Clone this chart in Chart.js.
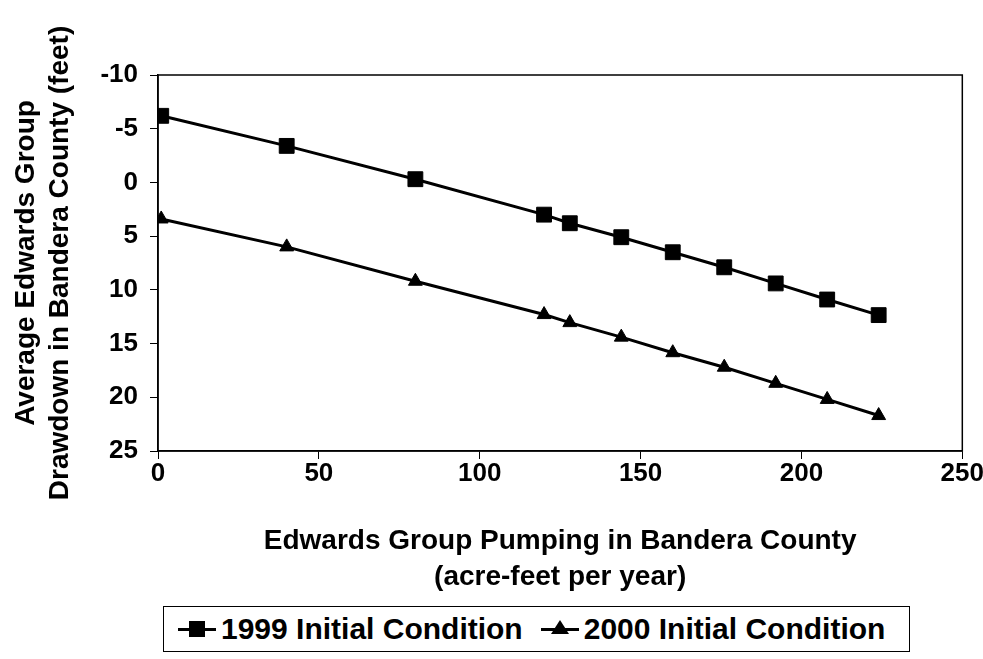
<!DOCTYPE html>
<html lang="en">

<head>
    <meta charset="UTF-8">
    <title>Edwards Group Drawdown</title>
    <style>
        body {
            margin: 0;
            background-color: #ffffff;
            font-family: "Liberation Sans", Arial, sans-serif;
        }

        .chart-container {
            position: relative;
            width: 983px;
            height: 600px;
        }

        .legend {
            position: absolute;
            left: 163px;
            top: 606px;
            width: 745px;
            height: 44px;
            border: 1px solid #000;
            display: flex;
            align-items: center;
            font-weight: bold;
            font-size: 30px;
            color: #000;
            white-space: nowrap;
        }

        .mk {
            position: relative;
            display: inline-block;
            width: 38px;
            height: 20px;
            margin-right: 5px;
        }

        .mk::before {
            content: "";
            position: absolute;
            left: 0;
            right: 0;
            top: 9px;
            height: 3px;
            background: #000;
        }

        .mk .sq {
            position: absolute;
            left: 11px;
            top: 2px;
            width: 16px;
            height: 16px;
            background: #000;
        }

        .mk .tri {
            position: absolute;
            left: 10px;
            top: 1px;
            width: 0;
            height: 0;
            border-left: 9px solid transparent;
            border-right: 9px solid transparent;
            border-bottom: 14px solid #000;
        }
    </style>
</head>

<body>
    <div class="chart-container">
        <canvas id="drawdownChart"></canvas>
    </div>
    <div class="legend">
        <span class="mk" style="margin-left: 14px;"><span class="sq"></span></span>
        <span id="label1999"></span>
        <span class="mk" style="margin-left: 18px;"><span class="tri"></span></span>
        <span id="label2000"></span>
    </div>

    <script src="https://cdn.jsdelivr.net/npm/chart.js"></script>
    <script>
        // pumping in acre-feet per year
        const pumping = [1, 40, 80, 120, 128, 144, 160, 176, 192, 208, 224];
        // average drawdown in feet
        const drawdown1999 = [-6.2, -3.4, -0.3, 3.0, 3.8, 5.1, 6.5, 7.9, 9.4, 10.9, 12.35];
        const drawdown2000 = [3.4, 6.0, 9.2, 12.3, 13.05, 14.4, 15.85, 17.2, 18.7, 20.2, 21.7];

        const xTicks = [0, 50, 100, 150, 200, 250];
        const yTicks = [-10, -5, 0, 5, 10, 15, 20, 25];

        const seriesNames = ['1999 Initial Condition', '2000 Initial Condition'];
        const xTitle = ['Edwards Group Pumping in Bandera County', '(acre-feet per year)'];
        const yTitle = ['Average Edwards Group', 'Drawdown in Bandera County (feet)'];

        const fontFamily = '"Liberation Sans", Arial, sans-serif';

        document.getElementById('label1999').textContent = seriesNames[0];
        document.getElementById('label2000').textContent = seriesNames[1];

        function toPoints(values) {
            return pumping.map((x, i) => ({ x: x, y: values[i] }));
        }

        // draws the box around the plot area
        const plotBorder = {
            id: 'plotBorder',
            afterDraw(chart) {
                const { ctx, chartArea } = chart;
                ctx.save();
                ctx.strokeStyle = '#000';
                ctx.lineWidth = 1.5;
                ctx.strokeRect(chartArea.left, chartArea.top,
                    chartArea.right - chartArea.left, chartArea.bottom - chartArea.top);
                ctx.restore();
            }
        };

        const ctx = document.getElementById('drawdownChart').getContext('2d');

        new Chart(ctx, {
            type: 'scatter',
            data: {
                datasets: [
                    {
                        label: seriesNames[0],
                        data: toPoints(drawdown1999),
                        showLine: true,
                        borderColor: '#000',
                        backgroundColor: '#000',
                        borderWidth: 3,
                        pointStyle: 'rect',
                        pointRadius: 10.5,
                        pointBorderWidth: 1
                    },
                    {
                        label: seriesNames[1],
                        data: toPoints(drawdown2000),
                        showLine: true,
                        borderColor: '#000',
                        backgroundColor: '#000',
                        borderWidth: 3,
                        pointStyle: 'triangle',
                        pointRadius: 8,
                        pointBorderWidth: 1
                    }
                ]
            },
            options: {
                responsive: true,
                maintainAspectRatio: false,
                animation: false,
                layout: {
                    padding: { top: 75, right: 20, bottom: 0, left: 0 }
                },
                plugins: {
                    legend: { display: false },
                    tooltip: { enabled: false }
                },
                scales: {
                    x: {
                        type: 'linear',
                        min: 0,
                        max: 250,
                        afterBuildTicks: (scale) => {
                            scale.ticks = xTicks.map(v => ({ value: v }));
                        },
                        afterFit: (scale) => {
                            scale.height = 149;
                        },
                        grid: {
                            drawOnChartArea: false,
                            drawTicks: true,
                            tickLength: 8,
                            color: '#000',
                            lineWidth: 1
                        },
                        border: { display: true, color: '#000', width: 1.5 },
                        ticks: {
                            color: '#000',
                            padding: -1,
                            maxRotation: 0,
                            font: { family: fontFamily, size: 26, weight: 'bold' }
                        },
                        title: {
                            display: true,
                            text: xTitle,
                            color: '#000',
                            padding: { top: 0, bottom: 5 },
                            font: { family: fontFamily, size: 28, weight: 'bold', lineHeight: 1.29 }
                        }
                    },
                    y: {
                        type: 'linear',
                        reverse: true,
                        min: -10,
                        max: 25,
                        afterBuildTicks: (scale) => {
                            scale.ticks = yTicks.map(v => ({ value: v }));
                        },
                        afterFit: (scale) => {
                            scale.width = 158;
                        },
                        grid: {
                            drawOnChartArea: false,
                            drawTicks: true,
                            tickLength: 8,
                            color: '#000',
                            lineWidth: 1
                        },
                        border: { display: true, color: '#000', width: 1.5 },
                        ticks: {
                            color: '#000',
                            padding: 12,
                            font: { family: fontFamily, size: 26, weight: 'bold' }
                        },
                        title: {
                            display: true,
                            text: yTitle,
                            color: '#000',
                            padding: { top: 9, bottom: 0 },
                            font: { family: fontFamily, size: 28, weight: 'bold', lineHeight: 1.21 }
                        }
                    }
                }
            },
            plugins: [plotBorder]
        });
    </script>
</body>

</html>
